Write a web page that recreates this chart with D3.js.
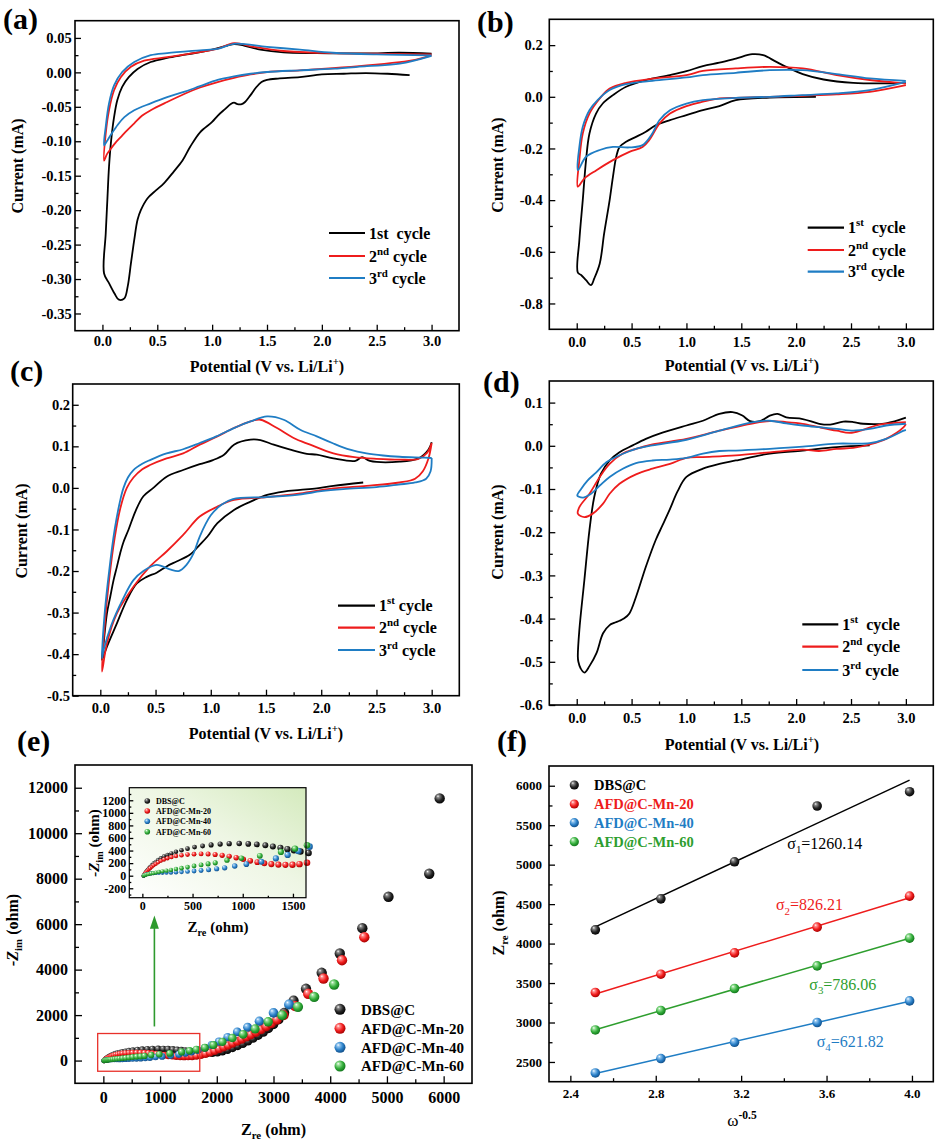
<!DOCTYPE html>
<html><head><meta charset="utf-8">
<script src="https://cdn.jsdelivr.net/npm/d3@7/dist/d3.min.js"></script>
<style>
body{margin:0;background:#fff}
text{font-family:"Liberation Serif","Times New Roman",serif;}
</style></head><body>
<svg id="c" width="938" height="1143" xmlns="http://www.w3.org/2000/svg"></svg>
<script>
// ---------------- DATA ----------------
// CV curves: [potential V, current mA]
const cvA1 = [[2.80,-0.004],[2.60,-0.002],[2.40,-0.001],[2.20,-0.002],[2.00,-0.003],[1.80,-0.007],[1.60,-0.009],[1.50,-0.011],[1.45,-0.014],[1.40,-0.022],[1.35,-0.033],[1.30,-0.043],[1.27,-0.046],[1.23,-0.046],[1.20,-0.044],[1.17,-0.046],[1.12,-0.053],[1.05,-0.063],[1.00,-0.072],[0.89,-0.087],[0.80,-0.108],[0.73,-0.128],[0.65,-0.144],[0.56,-0.161],[0.49,-0.171],[0.41,-0.183],[0.35,-0.200],[0.32,-0.214],[0.29,-0.243],[0.26,-0.277],[0.23,-0.311],[0.20,-0.328],[0.15,-0.330],[0.11,-0.321],[0.06,-0.306],[0.015,-0.292],[0.03,-0.234],[0.045,-0.185],[0.06,-0.137],[0.08,-0.098],[0.106,-0.065],[0.136,-0.040],[0.18,-0.021],[0.24,-0.007],[0.32,0.005],[0.44,0.015],[0.59,0.021],[0.77,0.026],[1.00,0.033],[1.14,0.039],[1.20,0.041],[1.29,0.039],[1.44,0.033],[1.65,0.029],[1.95,0.028],[2.41,0.0275],[2.71,0.0285],[3.00,0.027]];
const cvA2 = [[3.00,0.025],[2.85,0.018],[2.71,0.015],[2.41,0.010],[2.10,0.006],[1.80,0.003],[1.50,0.0005],[1.35,-0.003],[1.20,-0.008],[1.05,-0.014],[0.89,-0.022],[0.75,-0.031],[0.59,-0.043],[0.44,-0.055],[0.36,-0.063],[0.29,-0.074],[0.22,-0.085],[0.167,-0.094],[0.12,-0.102],[0.076,-0.111],[0.04,-0.119],[0.015,-0.128],[0.03,-0.089],[0.06,-0.055],[0.106,-0.026],[0.167,-0.007],[0.26,0.008],[0.38,0.017],[0.59,0.022],[0.89,0.0295],[1.045,0.034],[1.20,0.0425],[1.38,0.037],[1.65,0.031],[2.10,0.028],[2.50,0.027],[3.00,0.026]];
const cvA3 = [[3.00,0.024],[2.71,0.0126],[2.41,0.009],[2.10,0.0053],[1.80,0.003],[1.50,0.0005],[1.35,-0.002],[1.20,-0.0058],[1.05,-0.011],[0.89,-0.020],[0.75,-0.028],[0.59,-0.036],[0.44,-0.045],[0.29,-0.055],[0.20,-0.065],[0.14,-0.076],[0.08,-0.090],[0.04,-0.100],[0.015,-0.106],[0.03,-0.079],[0.06,-0.045],[0.106,-0.019],[0.18,0.0005],[0.29,0.015],[0.44,0.025],[0.59,0.028],[0.89,0.032],[1.05,0.034],[1.20,0.0415],[1.50,0.037],[1.80,0.033],[2.10,0.0285],[2.50,0.026],[3.00,0.0246]];

const cvB1 = [[2.18,0.0],[1.76,-0.003],[1.45,-0.013],[1.30,-0.036],[1.15,-0.052],[1.00,-0.071],[0.85,-0.090],[0.72,-0.110],[0.63,-0.135],[0.54,-0.155],[0.45,-0.174],[0.39,-0.194],[0.36,-0.232],[0.33,-0.310],[0.30,-0.400],[0.25,-0.529],[0.21,-0.645],[0.16,-0.703],[0.13,-0.729],[0.085,-0.710],[0.04,-0.690],[0.01,-0.681],[0.024,-0.555],[0.055,-0.400],[0.085,-0.245],[0.116,-0.142],[0.176,-0.065],[0.237,-0.026],[0.33,0.0065],[0.45,0.039],[0.63,0.065],[0.85,0.084],[1.00,0.099],[1.15,0.119],[1.30,0.132],[1.45,0.148],[1.60,0.165],[1.70,0.161],[1.82,0.135],[1.94,0.110],[2.06,0.088],[2.25,0.067],[2.52,0.054],[2.82,0.052],[3.00,0.054]];
const cvB2 = [[3.00,0.045],[2.67,0.019],[2.37,0.009],[2.06,0.004],[1.76,0.0],[1.45,-0.004],[1.30,-0.006],[1.15,-0.019],[1.00,-0.036],[0.85,-0.065],[0.755,-0.103],[0.66,-0.168],[0.60,-0.194],[0.48,-0.213],[0.33,-0.245],[0.18,-0.284],[0.07,-0.316],[0.01,-0.348],[0.024,-0.245],[0.055,-0.142],[0.116,-0.065],[0.21,-0.0065],[0.30,0.032],[0.45,0.054],[0.69,0.070],[1.00,0.084],[1.15,0.100],[1.45,0.110],[1.76,0.116],[2.06,0.110],[2.37,0.084],[2.67,0.065],[3.00,0.052]];
const cvB3 = [[3.00,0.058],[2.67,0.026],[2.37,0.013],[2.06,0.0065],[1.76,0.0],[1.45,-0.004],[1.15,-0.013],[1.00,-0.026],[0.85,-0.052],[0.755,-0.090],[0.68,-0.148],[0.60,-0.187],[0.48,-0.196],[0.33,-0.194],[0.21,-0.206],[0.085,-0.232],[0.01,-0.284],[0.024,-0.194],[0.055,-0.116],[0.116,-0.052],[0.19,-0.013],[0.30,0.026],[0.45,0.049],[0.69,0.062],[1.00,0.075],[1.15,0.084],[1.45,0.093],[1.76,0.103],[2.06,0.103],[2.37,0.088],[2.67,0.071],[3.00,0.062]];

const cvC1 = [[2.38,0.013],[2.11,0.005],[1.96,-0.001],[1.81,-0.005],[1.66,-0.009],[1.51,-0.017],[1.36,-0.033],[1.21,-0.053],[1.06,-0.085],[0.97,-0.117],[0.90,-0.137],[0.81,-0.161],[0.69,-0.177],[0.60,-0.189],[0.51,-0.204],[0.42,-0.214],[0.33,-0.230],[0.24,-0.270],[0.15,-0.326],[0.06,-0.382],[0.015,-0.414],[0.03,-0.374],[0.06,-0.302],[0.09,-0.262],[0.12,-0.222],[0.15,-0.190],[0.18,-0.157],[0.21,-0.130],[0.256,-0.100],[0.32,-0.055],[0.39,-0.020],[0.48,0.0],[0.60,0.027],[0.75,0.043],[0.90,0.057],[1.02,0.067],[1.12,0.080],[1.21,0.104],[1.36,0.116],[1.45,0.115],[1.57,0.104],[1.72,0.092],[1.87,0.082],[1.96,0.080],[2.11,0.071],[2.31,0.065],[2.37,0.074],[2.44,0.065],[2.71,0.063],[2.88,0.071],[2.97,0.092],[3.00,0.110]];
const cvC2 = [[3.00,0.108],[2.97,0.070],[2.92,0.040],[2.85,0.022],[2.71,0.013],[2.41,0.005],[2.11,-0.001],[1.81,-0.013],[1.51,-0.022],[1.21,-0.029],[1.06,-0.045],[0.90,-0.069],[0.75,-0.113],[0.60,-0.153],[0.45,-0.189],[0.30,-0.238],[0.15,-0.302],[0.06,-0.374],[0.015,-0.442],[0.04,-0.330],[0.08,-0.220],[0.13,-0.120],[0.18,-0.050],[0.24,0.0],[0.30,0.025],[0.38,0.045],[0.45,0.055],[0.60,0.071],[0.75,0.083],[0.90,0.104],[1.06,0.124],[1.21,0.144],[1.36,0.160],[1.45,0.164],[1.60,0.144],[1.75,0.120],[1.90,0.104],[2.11,0.083],[2.30,0.074],[2.50,0.070],[2.71,0.068],[2.88,0.070],[2.96,0.085],[3.00,0.108]];
const cvC3 = [[3.00,0.072],[2.99,0.040],[2.95,0.022],[2.85,0.013],[2.70,0.008],[2.50,0.002],[2.20,-0.003],[2.00,-0.008],[1.80,-0.016],[1.50,-0.022],[1.20,-0.027],[1.10,-0.040],[1.00,-0.066],[0.90,-0.117],[0.845,-0.157],[0.78,-0.185],[0.71,-0.200],[0.63,-0.196],[0.51,-0.185],[0.39,-0.200],[0.30,-0.222],[0.20,-0.270],[0.10,-0.330],[0.03,-0.390],[0.015,-0.410],[0.04,-0.300],[0.08,-0.200],[0.13,-0.100],[0.18,-0.030],[0.21,0.0],[0.25,0.025],[0.30,0.043],[0.38,0.058],[0.45,0.067],[0.60,0.083],[0.75,0.093],[0.90,0.108],[1.05,0.124],[1.21,0.144],[1.36,0.160],[1.51,0.172],[1.66,0.164],[1.81,0.140],[1.96,0.124],[2.10,0.108],[2.26,0.092],[2.41,0.083],[2.56,0.078],[2.71,0.075],[2.90,0.073],[3.00,0.072]];

const cvD1 = [[2.67,0.001],[2.37,-0.003],[2.06,-0.011],[1.76,-0.018],[1.45,-0.034],[1.30,-0.042],[1.15,-0.053],[1.00,-0.072],[0.92,-0.105],[0.845,-0.149],[0.78,-0.185],[0.72,-0.218],[0.63,-0.280],[0.54,-0.350],[0.48,-0.388],[0.43,-0.400],[0.39,-0.405],[0.34,-0.410],[0.30,-0.415],[0.24,-0.434],[0.18,-0.480],[0.116,-0.510],[0.07,-0.525],[0.035,-0.515],[0.015,-0.500],[0.01,-0.488],[0.024,-0.426],[0.07,-0.310],[0.116,-0.195],[0.16,-0.118],[0.22,-0.065],[0.30,-0.034],[0.39,-0.015],[0.51,0.001],[0.63,0.016],[0.755,0.028],[1.00,0.047],[1.15,0.058],[1.30,0.074],[1.42,0.078],[1.51,0.070],[1.58,0.057],[1.67,0.057],[1.76,0.070],[1.83,0.074],[1.91,0.066],[2.06,0.062],[2.21,0.051],[2.31,0.049],[2.43,0.056],[2.52,0.055],[2.61,0.051],[2.82,0.052],[3.00,0.065]];
const cvD2 = [[3.00,0.050],[2.98,0.043],[2.82,0.016],[2.67,0.003],[2.52,-0.005],[2.37,-0.007],[2.21,-0.012],[2.06,-0.009],[1.76,-0.015],[1.45,-0.022],[1.15,-0.026],[1.00,-0.028],[0.85,-0.042],[0.69,-0.053],[0.54,-0.066],[0.39,-0.088],[0.30,-0.111],[0.24,-0.134],[0.146,-0.157],[0.07,-0.165],[0.01,-0.157],[0.024,-0.142],[0.116,-0.111],[0.21,-0.072],[0.30,-0.042],[0.42,-0.018],[0.54,-0.007],[0.69,0.003],[1.00,0.016],[1.30,0.035],[1.61,0.052],[1.76,0.057],[1.91,0.055],[2.06,0.051],[2.21,0.043],[2.37,0.035],[2.49,0.030],[2.61,0.037],[2.76,0.049],[3.00,0.055]];
const cvD3 = [[3.00,0.037],[2.98,0.035],[2.82,0.016],[2.67,0.006],[2.37,0.005],[2.06,-0.002],[1.76,-0.007],[1.45,-0.011],[1.30,-0.012],[1.15,-0.018],[1.00,-0.028],[0.85,-0.032],[0.69,-0.034],[0.54,-0.040],[0.42,-0.053],[0.30,-0.072],[0.21,-0.092],[0.12,-0.113],[0.06,-0.120],[0.02,-0.118],[0.005,-0.115],[0.04,-0.100],[0.10,-0.080],[0.176,-0.062],[0.27,-0.038],[0.39,-0.022],[0.54,-0.007],[0.69,0.001],[1.00,0.014],[1.30,0.035],[1.61,0.055],[1.76,0.058],[1.91,0.052],[2.06,0.047],[2.21,0.043],[2.37,0.039],[2.52,0.035],[2.67,0.039],[2.82,0.047],[3.00,0.051]];

// EIS Nyquist: [Zre ohm, -Zim ohm]
const eisDBS = [[12,0],[18,15],[25,35],[33,55],[42,75],[52,95],[64,118],[78,142],[94,168],[112,195],[133,222],[157,250],[184,278],[215,305],[250,330],[290,355],[335,380],[390,405],[450,430],[520,455],[600,473],[685,490],[775,503],[865,510],[965,512],[1055,506],[1140,498],[1225,484],[1300,465],[1375,443],[1445,422],[1510,404],[1575,384],[1655,360],[1740,345],[1830,335],[1920,335],[2010,355],[2100,410],[2190,480],[2280,560],[2370,650],[2460,750],[2550,860],[2640,980],[2730,1110],[2820,1250],[2910,1410],[3000,1590],[3090,1800],[3190,2100],[3354,2641],[3573,3156],[3850,3860],[4169,4709],[4566,5823],[5027,7205],[5746,8217],[5930,11531]];
const eisMn20 = [[12,0],[18,12],[25,28],[33,45],[42,62],[52,80],[64,100],[78,120],[94,142],[112,165],[133,188],[157,212],[184,236],[215,258],[250,278],[290,296],[335,312],[390,326],[450,336],[515,343],[585,347],[655,345],[725,338],[795,325],[865,308],[935,287],[1005,262],[1075,237],[1145,215],[1215,197],[1285,184],[1355,176],[1425,173],[1495,175],[1565,184],[1640,205],[1720,240],[1800,290],[1880,350],[1960,420],[2040,500],[2120,580],[2200,660],[2280,750],[2360,840],[2440,930],[2520,1030],[2600,1130],[2690,1240],[2780,1360],[2870,1490],[2960,1630],[3060,1790],[3180,1990],[3380,2390],[3612,2936],[3882,3609],[4208,4415],[4601,5427]];
const eisMn40 = [[12,0],[20,8],[30,15],[42,22],[56,28],[72,33],[90,37],[110,40],[135,43],[165,45],[200,47],[240,49],[285,52],[335,56],[390,61],[450,67],[515,75],[585,84],[660,96],[740,110],[820,126],[920,153],[1036,184],[1186,221],[1330,275],[1447,330],[1553,392],[1665,462],[1790,560],[1910,680],[2040,830],[2190,1030],[2361,1260],[2543,1466],[2750,1730],[3000,2099],[3274,2465]];
const eisMn60 = [[12,0],[20,6],[30,12],[42,18],[56,24],[72,30],[90,36],[110,42],[135,50],[165,60],[200,70],[240,80],[285,92],[335,106],[390,120],[450,137],[515,155],[585,172],[655,188],[726,205],[843,247],[986,279],[1170,316],[1380,379],[1520,430],[1640,484],[1790,565],[1940,680],[2100,820],[2275,990],[2465,1150],[2676,1390],[2906,1703],[3152,1994],[3431,2363],[3717,2803],[4069,3345]];

// Warburg plot (f)
const omegaInv = [2.517, 2.824, 3.169, 3.556, 3.989];
const zreDBS  = [4174, 4567, 5036, 5743, 5924];
const zreMn20 = [3380, 3612, 3882, 4208, 4601];
const zreMn40 = [2361, 2543, 2750, 3000, 3274];
const zreMn60 = [2906, 3152, 3431, 3717, 4069];
// slopes: sigma1 DBS@C, sigma2 Mn-20, sigma3 Mn-60, sigma4 Mn-40
const sigmaValues = ["1260.14", "826.21", "786.06", "621.82"];

const seriesNames = ["DBS@C", "AFD@C-Mn-20", "AFD@C-Mn-40", "AFD@C-Mn-60"];

// tick values
const cvXTicks = [0, 0.5, 1.0, 1.5, 2.0, 2.5, 3.0];
const aYTicks = [-0.35,-0.30,-0.25,-0.20,-0.15,-0.10,-0.05,0,0.05];
const bYTicks = [-0.8,-0.6,-0.4,-0.2,0,0.2];
const cYTicks = [-0.5,-0.4,-0.3,-0.2,-0.1,0,0.1,0.2];
const dYTicks = [-0.6,-0.5,-0.4,-0.3,-0.2,-0.1,0,0.1];
const eXTicks = [0,1000,2000,3000,4000,5000,6000];
const eYTicks = [0,2000,4000,6000,8000,10000,12000];
const insetXTicks = [0,500,1000,1500];
const insetYTicks = [-200,0,200,400,600,800,1000,1200];
const fXTicks = [2.4,2.8,3.2,3.6,4.0];
const fYTicks = [2500,3000,3500,4000,4500,5000,5500,6000];

// ---------------- DRAWING ----------------
const svg = d3.select("#c");
svg.append("rect").attr("width",938).attr("height",1143).attr("fill","#fff");
const FONT = '"Liberation Serif","Times New Roman",serif';
const COL = {black:"#000000", red:"#ee1c1c", blue:"#1f7dc4", green:"#2e9e2e"};
const defs = svg.append("defs");

function sphereGrad(id, light, mid, dark){
  const g = defs.append("radialGradient").attr("id",id)
    .attr("cx","42%").attr("cy","40%").attr("r","62%").attr("fx","33%").attr("fy","28%");
  g.append("stop").attr("offset","0%").attr("stop-color","#ffffff");
  g.append("stop").attr("offset","20%").attr("stop-color",light);
  g.append("stop").attr("offset","62%").attr("stop-color",mid);
  g.append("stop").attr("offset","100%").attr("stop-color",dark);
}
sphereGrad("sp0","#8a8a8a","#262626","#000000");
sphereGrad("sp1","#ff8c8c","#f01c1c","#a30000");
sphereGrad("sp2","#94c6ef","#2a80c8","#0f4c86");
sphereGrad("sp3","#9fe29f","#33ad3a","#10741a");
const sphereFill = ["url(#sp0)","url(#sp1)","url(#sp2)","url(#sp3)"];
const seriesCol = [COL.black, COL.red, COL.blue, COL.green];

const ig = defs.append("linearGradient").attr("id","insetBg").attr("x1","0").attr("y1","1").attr("x2","1").attr("y2","0");
ig.append("stop").attr("offset","0%").attr("stop-color","#ffffff");
ig.append("stop").attr("offset","55%").attr("stop-color","#eef6e4");
ig.append("stop").attr("offset","100%").attr("stop-color","#d4eabd");

function rich(g, x, y, parts, size, opts={}){
  const t = g.append("text").attr("x",x).attr("y",y).attr("font-size",size)
    .attr("font-family",FONT)
    .attr("font-weight",opts.weight||"bold").attr("fill",opts.fill||"#000")
    .attr("text-anchor",opts.anchor||"start").style("white-space","pre");
  if(opts.rotate) t.attr("transform",`rotate(-90,${x},${y})`);
  let shift=0;
  parts.forEach(p=>{
    const s=p[0], type=p[1]||"", st=p[2]||"";
    const ts=t.append("tspan").text(s);
    const target = type==="sup" ? -0.42*size : type==="sub" ? 0.28*size : 0;
    ts.attr("dy", target-shift); shift=target;
    if(type) ts.attr("font-size", size*0.68);
    if(st.includes("i")) ts.attr("font-style","italic");
    if(st.includes("b")) ts.attr("font-weight","bold");
    if(st.includes("n")) ts.attr("font-weight","normal");
  });
  return t;
}

const hy = s => s.replace("\u2212","-");
function mids(ticks, dom){
  const lo=Math.min(...dom), hi=Math.max(...dom);
  const out=[];
  for(let i=0;i<ticks.length-1;i++) out.push((ticks[i]+ticks[i+1])/2);
  const st=ticks[1]-ticks[0];
  const a=ticks[0]-st/2, b=ticks[ticks.length-1]+st/2;
  if(a>lo+1e-9) out.unshift(a);
  if(b<hi-1e-9) out.push(b);
  return out;
}
function styleAxis(sel, size){
  sel.select(".domain").remove();
  sel.attr("font-family",FONT).attr("font-size",size).attr("font-weight","bold");
  sel.selectAll("line").attr("stroke","#000").attr("stroke-width",1.3);
  sel.selectAll("text").attr("fill","#000");
}
function axes(g, x, y, frame, o){
  const [l,t,r,b]=frame;
  g.append("g").attr("transform",`translate(0,${b})`)
    .call(d3.axisBottom(x).tickValues(o.xTicks).tickSize(-o.major).tickPadding(o.xPad).tickFormat(o.xFmt))
    .call(styleAxis,o.size);
  g.append("g").attr("transform",`translate(0,${b})`)
    .call(d3.axisBottom(x).tickValues(mids(o.xTicks,x.domain())).tickSize(-o.minor).tickFormat(""))
    .call(styleAxis,o.size);
  g.append("g").attr("transform",`translate(${l},0)`)
    .call(d3.axisLeft(y).tickValues(o.yTicks).tickSize(-o.major).tickPadding(o.yPad).tickFormat(o.yFmt))
    .call(styleAxis,o.size);
  g.append("g").attr("transform",`translate(${l},0)`)
    .call(d3.axisLeft(y).tickValues(mids(o.yTicks,y.domain())).tickSize(-o.minor).tickFormat(""))
    .call(styleAxis,o.size);
  g.append("rect").attr("x",l).attr("y",t).attr("width",r-l).attr("height",b-t)
    .attr("fill","none").attr("stroke","#000").attr("stroke-width",o.frameW||1.6);
}

function cvPanel(o){
  const g=svg.append("g");
  const [l,t,r,b]=o.frame;
  const x=d3.scaleLinear().domain([-0.25,3.25]).range([l,r]);
  const y=d3.scaleLinear().domain(o.yDom).range([b,t]);
  const f1=d3.format(".1f"), fy=d3.format(o.yFmt);
  axes(g,x,y,o.frame,{xTicks:cvXTicks,yTicks:o.yTicks,major:6,minor:3.5,xPad:o.xPad,yPad:o.yPad,
    xFmt:d=>hy(f1(d)), yFmt:d=>hy(fy(d)), size:14.5});
  const line=d3.line().x(d=>x(d[0])).y(d=>y(d[1])).curve(d3.curveCatmullRom.alpha(0.5));
  const cols=[COL.black,COL.red,COL.blue];
  o.cycles.forEach((c,i)=>{
    g.append("path").attr("d",line(c)).attr("fill","none").attr("stroke",cols[i])
      .attr("stroke-width",1.8).attr("stroke-linejoin","round");
  });
  o.legend.ys.forEach((ly,i)=>{
    g.append("line").attr("x1",o.legend.x1).attr("x2",o.legend.x2).attr("y1",ly).attr("y2",ly)
      .attr("stroke",cols[i]).attr("stroke-width",2.2);
    rich(g,o.legend.x2+4,ly+5.5,o.legendText[i],16);
  });
  rich(g,o.label.x,o.label.y,[[o.label.text]],30);
  rich(g,o.xLabel.x,o.xLabel.y,[["Potential (V vs. Li/Li"],["+","sup"],[")"]],16,{anchor:"middle"});
  rich(g,o.yLabel.x,o.yLabel.y,[["Current (mA)"]],16,{anchor:"middle",rotate:true});
}

const lg2=[["2"],["nd","sup"],[" cycle"]], lg3=[["3"],["rd","sup"],[" cycle"]];
cvPanel({frame:[75,20.7,459,330.7], yDom:[-0.375,0.075], yTicks:aYTicks, yFmt:".2f", xPad:5.5, yPad:3.3,
  cycles:[cvA1,cvA2,cvA3], legend:{x1:329,x2:365,ys:[233,256,278]},
  legendText:[[["1st  cycle"]],lg2,lg3], label:{text:"(a)",x:3,y:29}, xLabel:{x:267,y:372}, yLabel:{x:23,y:166}});
cvPanel({frame:[549.3,19.3,933.3,329.3], yDom:[-0.9,0.3], yTicks:bYTicks, yFmt:".1f", xPad:7.4, yPad:6.6,
  cycles:[cvB1,cvB2,cvB3], legend:{x1:807.7,x2:844,ys:[227.7,250,271.7]},
  legendText:[[["1"],["st","sup"],["  cycle"]],lg2,lg3], label:{text:"(b)",x:477,y:32}, xLabel:{x:742,y:371}, yLabel:{x:503,y:165}});
cvPanel({frame:[72.7,384,459.3,695.7], yDom:[-0.5,0.25], yTicks:cYTicks, yFmt:".1f", xPad:7, yPad:2.7,
  cycles:[cvC1,cvC2,cvC3], legend:{x1:338,x2:375,ys:[605.7,627.7,650]},
  legendText:[[["1"],["st","sup"],[" cycle"]],lg2,lg3], label:{text:"(c)",x:10,y:381}, xLabel:{x:266,y:739}, yLabel:{x:27,y:531}});
cvPanel({frame:[549.3,381,933.3,705], yDom:[-0.6,0.15], yTicks:dYTicks, yFmt:".1f", xPad:7.7, yPad:6.6,
  cycles:[cvD1,cvD2,cvD3], legend:{x1:802.3,x2:838.3,ys:[624.3,646.7,670]},
  legendText:[[["1"],["st","sup"],["  cycle"]],lg2,lg3], label:{text:"(d)",x:483,y:392}, xLabel:{x:742,y:750}, yLabel:{x:503,y:532}});

// ---------- (e) Nyquist ----------
(function(){
  const g=svg.append("g");
  const frame=[75,765,472,1083.3];
  const x=d3.scaleLinear().domain([-500,6500]).range([75,472]);
  const y=d3.scaleLinear().domain([-1000,13000]).range([1083.3,765]);
  axes(g,x,y,frame,{xTicks:eXTicks,yTicks:eYTicks,major:7,minor:4,xPad:8.3,yPad:7,
    xFmt:d3.format("d"), yFmt:d3.format("d"), size:16});
  const all=[eisDBS,eisMn20,eisMn40,eisMn60];
  const rS=d3.scaleLinear().domain([0,3500]).range([2.6,5.2]).clamp(true);
  all.forEach((s,i)=>{
    g.append("g").selectAll("circle").data(s).join("circle")
      .attr("cx",d=>x(d[0])).attr("cy",d=>y(d[1])).attr("r",d=>rS(d[0]))
      .attr("fill",sphereFill[i]);
  });
  // red box around the low-impedance region
  g.append("rect").attr("x",x(-100)).attr("y",y(1190)).attr("width",x(1700)-x(-100)).attr("height",y(-470)-y(1190))
    .attr("fill","none").attr("stroke","#e8302a").attr("stroke-width",1.3);
  // green arrow
  const ax=x(900);
  g.append("line").attr("x1",ax).attr("x2",ax).attr("y1",y(1500)).attr("y2",y(5900))
    .attr("stroke","#2e9a2e").attr("stroke-width",1.6);
  g.append("path").attr("d",`M${ax-4.5},${y(5800)} L${ax},${y(6380)} L${ax+4.5},${y(5800)} Z`).attr("fill","#2e9a2e");
  // legend
  const ly=[1009.3,1028.3,1047.3,1066];
  seriesNames.forEach((n,i)=>{
    g.append("circle").attr("cx",340).attr("cy",ly[i]).attr("r",5.5).attr("fill",sphereFill[i]);
    rich(g,361,ly[i]+5.2,[[n]],15);
  });
  rich(g,17,751,[["(e)"]],30);
  rich(g,273.5,1135,[["Z"],["re","sub"],[" (ohm)"]],16,{anchor:"middle"});
  rich(g,18,930,[["-Z","","i"],["im","sub"],[" (ohm)"]],16,{anchor:"middle",rotate:true});

  // inset
  const ifr=[129.3,787.7,306,897.7];
  const xi=d3.scaleLinear().domain([-130,1630]).range([129.3,306]);
  const yi=d3.scaleLinear().domain([-350,1400]).range([897.7,787.7]);
  g.append("rect").attr("x",ifr[0]).attr("y",ifr[1]).attr("width",ifr[2]-ifr[0]).attr("height",ifr[3]-ifr[1])
    .attr("fill","url(#insetBg)");
  const rI=d3.scaleLinear().domain([0,1650]).range([2.0,3.3]).clamp(true);
  all.forEach((s,i)=>{
    g.append("g").selectAll("circle").data(s.filter(d=>d[0]<=1665)).join("circle")
      .attr("cx",d=>xi(d[0])).attr("cy",d=>yi(d[1])).attr("r",d=>rI(d[0]))
      .attr("fill",sphereFill[i]);
  });
  axes(g,xi,yi,ifr,{xTicks:insetXTicks,yTicks:insetYTicks,major:4,minor:2,xPad:4,yPad:3,
    xFmt:d3.format("d"), yFmt:d=>hy(d3.format("d")(d)), size:12, frameW:1.2});
  const ily=[801,811,821.3,831.7];
  seriesNames.forEach((n,i)=>{
    g.append("circle").attr("cx",147.3).attr("cy",ily[i]).attr("r",2.8).attr("fill",sphereFill[i]);
    rich(g,156,ily[i]+2.8,[[n]],8);
  });
  rich(g,218,932,[["Z"],["re","sub"],[" (ohm)"]],15,{anchor:"middle"});
  rich(g,99,843,[["-Z","","i"],["im","sub"],[" (ohm)"]],15,{anchor:"middle",rotate:true});
})();

// ---------- (f) Warburg ----------
(function(){
  const g=svg.append("g");
  const frame=[549,766,933.3,1081.7];
  const x=d3.scaleLinear().domain([2.3,4.1]).range([549,933.3]);
  const y=d3.scaleLinear().domain([2250,6250]).range([1081.7,766]);
  axes(g,x,y,frame,{xTicks:fXTicks,yTicks:fYTicks,major:6,minor:3.5,xPad:7,yPad:7,
    xFmt:d3.format(".1f"), yFmt:d3.format("d"), size:13});
  const sets=[zreDBS,zreMn20,zreMn40,zreMn60];
  sets.forEach((ys,i)=>{
    const pts=omegaInv.map((v,k)=>[v,ys[k]]);
    const mx=d3.mean(pts,d=>d[0]), my=d3.mean(pts,d=>d[1]);
    const slope=d3.sum(pts,d=>(d[0]-mx)*(d[1]-my))/d3.sum(pts,d=>(d[0]-mx)**2);
    const x0=omegaInv[0], x1=omegaInv[omegaInv.length-1];
    g.append("line").attr("x1",x(x0)).attr("x2",x(x1))
      .attr("y1",y(my+slope*(x0-mx))).attr("y2",y(my+slope*(x1-mx)))
      .attr("stroke",seriesCol[i]).attr("stroke-width",1.5);
  });
  sets.forEach((ys,i)=>{
    g.append("g").selectAll("circle").data(omegaInv.map((v,k)=>[v,ys[k]])).join("circle")
      .attr("cx",d=>x(d[0])).attr("cy",d=>y(d[1])).attr("r",4.8).attr("fill",sphereFill[i]);
  });
  const ly=[785,804,822.7,841.7];
  seriesNames.forEach((n,i)=>{
    g.append("circle").attr("cx",574.3).attr("cy",ly[i]).attr("r",4.6).attr("fill",sphereFill[i]);
    rich(g,594,ly[i]+5,[[n]],14.5,{fill:seriesCol[i]});
  });
  const sigPos=[[3.416,5200],[3.363,4425],[3.519,3412],[3.554,2690]];
  const sigCol=[COL.black, COL.red, COL.green, COL.blue];
  sigmaValues.forEach((s,i)=>{
    rich(g,x(sigPos[i][0]),y(sigPos[i][1]),[["σ"],[String(i+1),"sub"],["="+s]],16,{weight:"normal",fill:sigCol[i]});
  });
  rich(g,497,751,[["(f)"]],30);
  rich(g,742,1126,[["ω","","n"],["-0.5","sup","b"]],17,{anchor:"middle",weight:"normal"});
  rich(g,504,923,[["Z"],["re","sub"],[" (ohm)"]],16,{anchor:"middle",rotate:true});
})();
</script></body></html>
